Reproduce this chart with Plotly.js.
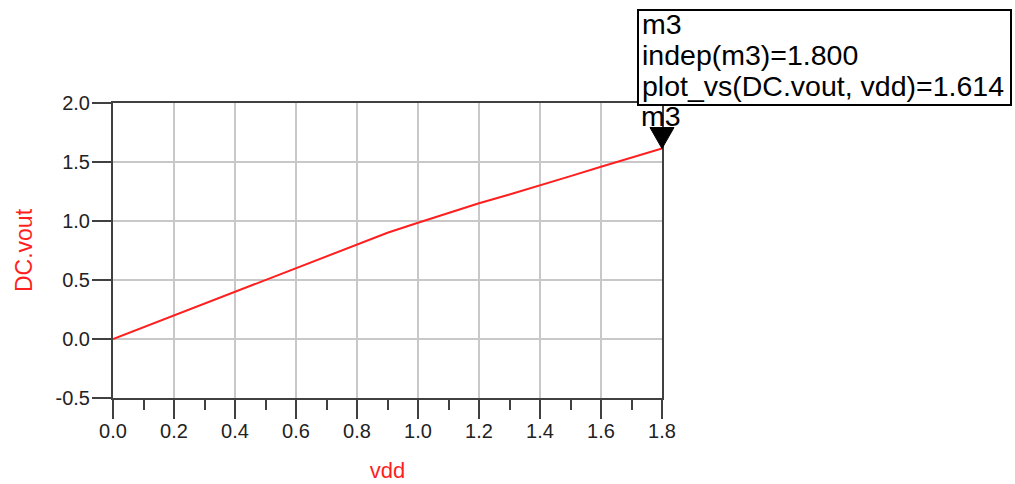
<!DOCTYPE html>
<html>
<head>
<meta charset="utf-8">
<script src="https://cdn.plot.ly/plotly-3.0.1.min.js"></script>
<style>
  html, body { margin: 0; padding: 0; background: #ffffff; }
  #chart { width: 1015px; height: 484px; }
</style>
</head>
<body>
<div id="chart"></div>
<script>
// DC sweep: output voltage versus supply voltage
const vdd  = [0.0, 0.1, 0.2, 0.3, 0.4, 0.5, 0.6, 0.7, 0.8, 0.9, 1.0, 1.1, 1.2, 1.3, 1.4, 1.5, 1.6, 1.7, 1.8];
const vout = [0.0, 0.1, 0.2, 0.3, 0.4, 0.5, 0.6, 0.7, 0.8, 0.9, 0.985, 1.068, 1.15, 1.225, 1.30, 1.38, 1.46, 1.537, 1.614];

const xRange = [0.0, 1.8];
const yRange = [-0.5, 2.0];
const xTicks = [0.0, 0.2, 0.4, 0.6, 0.8, 1.0, 1.2, 1.4, 1.6, 1.8];
const yTicks = [-0.5, 0.0, 0.5, 1.0, 1.5, 2.0];

const markerName = 'm3';
const mi = vdd.length - 1;
const mx = vdd[mi];
const my = vout[mi];

const FONT = 'Liberation Sans, Arial, sans-serif';
const AXIS = '#404040';
const GRID = '#c8c8c8';
const RED = '#ff1f1f';

const W = 1015, H = 484;
const M = { l: 113, r: 353, t: 103, b: 86 };
const plotH = H - M.t - M.b;
const plotW = W - M.l - M.r;
// pixel position -> paper fraction
const py = (p) => (H - M.b - p) / plotH;
const px = (p) => (p - M.l) / plotW;

const readout = [
  markerName,
  'indep(' + markerName + ')=' + mx.toFixed(3),
  'plot_vs(DC.vout, vdd)=' + my.toFixed(3)
];
const readoutRows = [24, 55, 86];

const annotations = readout.map((t, i) => ({
  text: t, xref: 'paper', yref: 'paper',
  x: px(640), y: py(readoutRows[i]),
  xanchor: 'left', yanchor: 'middle',
  showarrow: false,
  font: { family: FONT, size: 28.5, color: '#000000' }
}));

annotations.push({
  text: markerName, xref: 'x', yref: 'y', x: mx, y: my,
  xanchor: 'center', yanchor: 'middle', yshift: 33, xshift: -1,
  showarrow: false,
  font: { family: FONT, size: 28.5, color: '#000000' }
});

const shapes = [
  {
    type: 'rect', xref: 'paper', yref: 'paper',
    x0: px(638), x1: px(1011), y0: py(105), y1: py(10),
    line: { color: '#000000', width: 2 }, fillcolor: '#ffffff', layer: 'above'
  },
  {
    type: 'path', xref: 'paper', yref: 'y',
    xsizemode: 'pixel', ysizemode: 'pixel',
    xanchor: (mx - xRange[0]) / (xRange[1] - xRange[0]), yanchor: my,
    path: 'M-12,21 L12,21 L0,0 Z',
    fillcolor: '#000000', line: { color: '#000000', width: 1 }, layer: 'above'
  }
];

const trace = {
  x: vdd, y: vout, type: 'scatter', mode: 'lines',
  line: { color: RED, width: 2 }, hoverinfo: 'skip', showlegend: false
};

const layout = {
  width: W, height: H,
  margin: M,
  paper_bgcolor: '#ffffff', plot_bgcolor: '#ffffff',
  font: { family: FONT, size: 20, color: '#222222' },
  showlegend: false,
  xaxis: {
    range: xRange, tickvals: xTicks, ticktext: xTicks.map(v => v.toFixed(1)),
    showline: true, mirror: true, linecolor: AXIS, linewidth: 2,
    ticks: 'outside', ticklen: 19, tickwidth: 2, tickcolor: AXIS,
    minor: { ticks: 'outside', dtick: 0.1, tick0: 0, ticklen: 10, tickwidth: 2, tickcolor: AXIS, showgrid: false },
    showgrid: true, gridcolor: GRID, gridwidth: 2, zeroline: false,
    ticklabelstandoff: -5,
    tickfont: { family: FONT, size: 20, color: '#222222' },
    title: { text: 'vdd', font: { family: FONT, size: 22, color: RED }, standoff: 22 }
  },
  yaxis: {
    range: yRange, tickvals: yTicks, ticktext: yTicks.map(v => v.toFixed(1)),
    showline: true, mirror: true, linecolor: AXIS, linewidth: 2,
    ticks: 'outside', ticklen: 19, tickwidth: 2, tickcolor: AXIS,
    showgrid: true, gridcolor: GRID, gridwidth: 2, zeroline: false,
    ticklabelstandoff: -2,
    tickfont: { family: FONT, size: 20, color: '#222222' },
    title: { text: 'DC.vout', font: { family: FONT, size: 23, color: RED }, standoff: 16 }
  },
  shapes: shapes,
  annotations: annotations
};

Plotly.newPlot('chart', [trace], layout, { displayModeBar: false, staticPlot: true });
</script>
</body>
</html>
